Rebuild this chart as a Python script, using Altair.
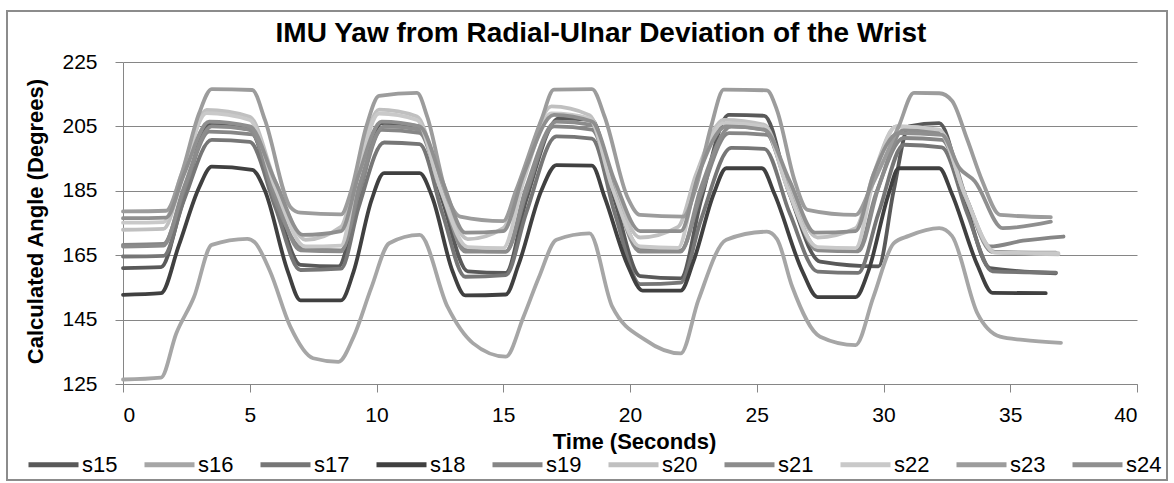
import altair as alt
import pandas as pd

SERIES = ["s15", "s16", "s17", "s18", "s19", "s20", "s21", "s22", "s23", "s24"]
COLORS = ["#595959", "#a6a6a6", "#767676", "#404040", "#868686",
          "#c0c0c0", "#8c8c8c", "#c9c9c9", "#9c9c9c", "#8f8f8f"]
TITLE = "IMU Yaw from Radial-Ulnar Deviation of the Wrist"

S15_T = [0, 1.5, 2.3, 3.4, 5.0, 6.0, 7.0, 8.5, 9.2, 10.2, 11.7, 12.6, 13.6, 15.1, 15.9, 17.2, 18.5, 19.4, 20.4, 22.0, 22.8, 23.9, 25.3, 26.3, 27.5, 29.8, 30.4, 31.0, 32.2, 33.2, 34.2, 36.8]
S15_V = [161.0, 161.3, 180, 205.5, 204, 182, 162, 161.5, 180, 206, 205, 182, 160, 159.5, 182, 207.5, 207, 182, 158.5, 157.8, 182, 208.6, 208.3, 184, 163, 161.5, 185, 205, 206, 182, 161, 159.4]

S16_T = [0, 1.5, 2.1, 2.8, 3.5, 4.9, 5.2, 5.8, 6.6, 7.5, 8.5, 9.1, 9.8, 10.5, 11.7, 12.8, 13.8, 15.1, 15.8, 16.4, 17.1, 18.4, 19.3, 20.6, 22.0, 22.7, 23.8, 25.4, 25.8, 26.4, 27.5, 28.9, 29.6, 30.4, 31.0, 32.2, 32.7, 33.7, 34.6, 35.5, 37.0]
S16_V = [126.4, 127, 140.7, 152, 168.2, 170.1, 169, 160, 142.8, 133, 131.9, 139.7, 155, 168.7, 171.3, 149, 137.7, 133.5, 145.9, 158, 169.8, 171.8, 149, 138.7, 134.5, 151.1, 169.8, 172.3, 170, 155.2, 139.7, 137.1, 152, 168.7, 171, 173.4, 171, 147, 139.7, 138.7, 137.8]

S17_T = [0, 1.6, 2.4, 3.5, 5.0, 6.0, 7.0, 8.6, 9.3, 10.3, 11.7, 12.6, 13.5, 15.1, 15.9, 17.1, 18.5, 19.4, 20.4, 22.0, 22.8, 24.0, 25.3, 26.3, 27.4, 29.0, 29.8, 30.8, 32.3, 33.3, 34.3, 36.8]
S17_V = [164.6, 164.8, 182, 200.8, 200.2, 180, 160.4, 160.8, 180, 200, 199.5, 178, 158.3, 158.8, 178, 201.9, 201.2, 178, 156, 156.5, 176, 198.3, 198, 178, 159.9, 159.5, 178, 199.3, 198.5, 178, 160, 159.6]

S18_T = [0, 1.5, 2.2, 3.0, 3.5, 5.1, 5.6, 6.5, 7.0, 8.6, 9.1, 9.8, 10.3, 11.7, 12.2, 13.0, 13.5, 15.1, 15.6, 16.5, 17.1, 18.5, 19.0, 19.9, 20.5, 22.0, 22.5, 23.3, 23.8, 25.2, 25.7, 26.8, 27.4, 28.9, 29.4, 30.2, 30.6, 32.2, 32.7, 33.7, 34.3, 36.4]
S18_V = [152.7, 153.2, 168, 186, 192.5, 191.5, 185, 160, 151, 151, 160, 182, 190.5, 190.5, 183, 160, 152.5, 152.8, 162, 185, 193, 192.8, 183, 162, 154, 154, 163, 184, 192, 192, 184, 160, 152, 152, 160, 184, 192, 192, 184, 162, 153.3, 153.2]

S19_T = [0, 1.6, 2.4, 3.4, 5.1, 6.0, 7.1, 8.6, 9.3, 10.2, 11.7, 12.6, 13.6, 15.1, 15.9, 17.0, 18.5, 19.4, 20.4, 22.0, 22.8, 23.9, 25.4, 26.3, 27.4, 29.0, 29.7, 30.8, 32.3, 33.3, 34.2, 35.5, 37.1]
S19_V = [168.2, 168.5, 185, 203.4, 202.5, 182, 167, 166.5, 184, 203.9, 203, 184, 166.5, 166.1, 184, 205, 204, 184, 167.2, 166.5, 184, 202.9, 202.4, 184, 167.2, 166.8, 184, 201.4, 200.8, 182, 167.7, 169.5, 170.8]

S20_T = [0, 1.6, 2.3, 3.3, 5.0, 6.0, 7.2, 8.6, 9.2, 10.1, 11.6, 12.5, 13.6, 15.0, 15.8, 16.9, 18.4, 19.3, 20.4, 21.9, 22.6, 23.7, 25.3, 26.2, 27.4, 28.9, 29.6, 30.5, 32.2, 33.2, 34.4, 36.9]
S20_V = [172.9, 173.2, 188, 210.1, 208, 188, 169.8, 173.8, 190, 210.2, 208.1, 188, 170, 173.4, 190, 211.2, 208.5, 188, 170.5, 173.8, 190, 207, 205.5, 188, 170.5, 173.4, 190, 205, 203.5, 184, 166, 165.3]

S21_T = [0, 1.6, 2.4, 3.5, 5.0, 6.0, 7.0, 8.6, 9.3, 10.3, 11.7, 12.6, 13.5, 15.1, 15.9, 17.1, 18.5, 19.4, 20.4, 22.0, 22.8, 24.0, 25.3, 26.3, 27.4, 29.0, 29.8, 30.8, 32.3, 33.3, 34.3, 36.8]
S21_V = [167.7, 168, 186, 205, 204, 184, 166.5, 166.2, 186, 205, 204, 184, 166.1, 166.1, 186, 206.5, 205.5, 184, 166.1, 166.1, 186, 205, 204, 184, 166.5, 166.2, 186, 203.9, 203, 182, 166, 165.8]

S22_T = [0, 1.6, 2.3, 3.3, 5.0, 6.0, 7.2, 8.6, 9.2, 10.1, 11.6, 12.5, 13.6, 15.0, 15.8, 16.9, 18.4, 19.3, 20.4, 21.9, 22.6, 23.7, 25.3, 26.2, 27.4, 28.9, 29.6, 30.5, 32.2, 33.2, 34.4, 36.9]
S22_V = [175.1, 175.3, 190, 209.1, 207, 186, 167.7, 168, 188, 209, 207, 186, 167.5, 167.2, 188, 209, 207.5, 186, 167.7, 167.3, 188, 206, 205, 186, 167.5, 167.2, 188, 205, 204, 184, 165.8, 165.6]

S23_T = [0, 1.7, 2.3, 3.0, 3.5, 5.1, 5.6, 6.6, 7.0, 8.6, 9.0, 9.6, 10.1, 11.6, 12.0, 12.8, 13.3, 15.0, 15.5, 16.5, 17.0, 18.5, 19.0, 19.9, 20.4, 22.1, 22.6, 23.2, 23.7, 25.4, 25.8, 26.5, 27.0, 28.9, 29.5, 30.6, 31.2, 32.2, 32.7, 33.3, 33.9, 34.6, 36.6]
S23_V = [178.6, 178.8, 190, 209, 216.6, 216.3, 207, 180, 178.2, 177.7, 185, 205, 214.5, 215.4, 208, 183, 177, 175.6, 185, 207, 216.4, 216.6, 208, 183, 177.5, 177.0, 186, 205, 216.4, 216.2, 210, 188, 179.1, 177.5, 186, 205, 215.4, 215.3, 213, 201, 188, 177.5, 176.8]

S24_T = [0, 1.7, 2.4, 3.4, 5.0, 6.0, 7.1, 8.6, 9.3, 10.2, 11.7, 12.6, 13.5, 15.0, 15.8, 17.0, 18.5, 19.4, 20.4, 22.0, 22.7, 23.8, 25.3, 26.3, 27.3, 28.9, 29.6, 30.6, 32.3, 33.0, 33.6, 34.7, 36.6]
S24_V = [176.5, 176.7, 190, 206.5, 205, 188, 171.3, 172.5, 190, 206.5, 205, 188, 172, 172.5, 190, 208.6, 206.5, 188, 172.5, 172.5, 190, 205, 204, 188, 172, 172.5, 190, 202.9, 202.4, 192, 188, 173.4, 175.4]

X_TICKS = [0, 5, 10, 15, 20, 25, 30, 35, 40]
Y_TICKS = [125, 145, 165, 185, 205, 225]

TIMES = [S15_T, S16_T, S17_T, S18_T, S19_T, S20_T, S21_T, S22_T, S23_T, S24_T]
VALUES = [S15_V, S16_V, S17_V, S18_V, S19_V, S20_V, S21_V, S22_V, S23_V, S24_V]

rows = []
for k, (name, ts, vs) in enumerate(zip(SERIES, TIMES, VALUES)):
    for t, v in zip(ts, vs):
        rows.append({"series": name, "t": t, "v": v, "k": k})
df = pd.DataFrame(rows)

FONT = "Liberation Sans"
GRAY = "#868686"

lines = alt.Chart(df).mark_line(strokeWidth=3.8, strokeJoin="round", strokeCap="round",
                                interpolate="monotone").encode(
    x=alt.X("t:Q", scale=alt.Scale(domain=[0, 40], nice=False),
            axis=alt.Axis(values=X_TICKS, title="Time (Seconds)", grid=False,
                          domainColor=GRAY, tickColor=GRAY, tickSize=8,
                          labelFontSize=21, labelFont=FONT, labelColor="#000000",
                          labelPadding=12, titleFont=FONT, titleFontSize=22,
                          titleFontWeight="bold", titleColor="#000000",
                          titleX=511, titleY=64, titleBaseline="alphabetic")),
    y=alt.Y("v:Q", scale=alt.Scale(domain=[125, 225], nice=False, zero=False),
            axis=alt.Axis(values=Y_TICKS, title="Calculated Angle (Degrees)", grid=True,
                          gridColor=GRAY, gridWidth=1, domainColor=GRAY, tickColor=GRAY,
                          tickSize=8, labelFontSize=21, labelFont=FONT,
                          labelColor="#000000", labelPadding=18, titleFont=FONT,
                          titleFontSize=22, titleFontWeight="bold", titleColor="#000000",
                          titleX=-81, titleY=159, titleBaseline="alphabetic")),
    color=alt.Color("series:N", scale=alt.Scale(domain=SERIES, range=COLORS),
                    legend=alt.Legend(orient="none", legendX=-97, legendY=375,
                                      direction="horizontal", columns=10, title=None,
                                      symbolType="stroke", symbolSize=2500,
                                      symbolStrokeWidth=5, labelFontSize=22,
                                      labelFont=FONT, labelColor="#000000",
                                      labelOffset=1, columnPadding=16)),
    detail="series:N",
    order="t:Q",
)

border = alt.Chart(pd.DataFrame({"a": [0]})).mark_rect(
    fill=None, stroke="#8c8c8c", strokeWidth=2
).encode(x=alt.value(-116), x2=alt.value(1044), y=alt.value(-51), y2=alt.value(418))

title = alt.Chart(pd.DataFrame({"txt": [TITLE]})).mark_text(
    font=FONT, fontSize=28, fontWeight="bold", color="#000000",
    align="center", baseline="alphabetic"
).encode(text="txt:N", x=alt.value(478), y=alt.value(-20))

chart = alt.layer(border, lines, title).properties(
    width=1014, height=322,
    autosize=alt.AutoSizeParams(type="none"),
    padding={"left": 123, "top": 62, "right": 37, "bottom": 99},
).configure_view(stroke=None)

chart.save("out.html", embed_options={"renderer": "svg", "actions": False})
